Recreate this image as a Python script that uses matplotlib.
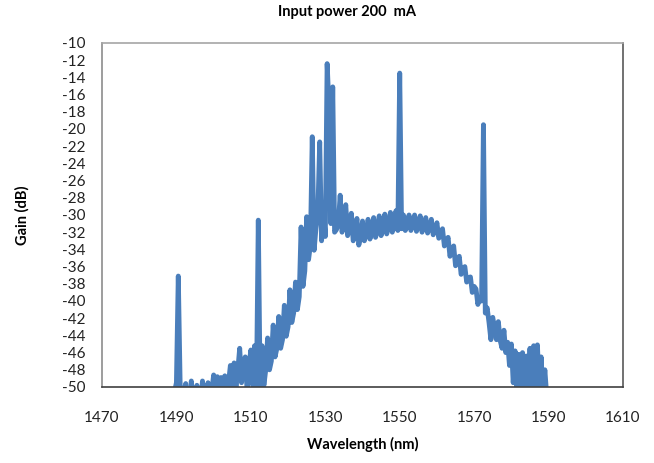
import numpy as np
import matplotlib
matplotlib.use("Agg")
import matplotlib.pyplot as plt

wl_start = 1489.0
wl_step = 0.5
gain = [
    # 1489.0 - 1498.5
    -52, -50.5, -49.5, -37.1, -49.8, -52, -50.5, -49.6, -52, -52,
    -49.3, -52, -52, -49.8, -52, -52, -49.3, -52, -50.5, -49.5,
    # 1499.0 - 1508.5
    -52, -50.5, -48.6, -51, -48.8, -50.5, -48.9, -51, -48.7, -50.8,
    -49.5, -47.5, -50.5, -47.2, -50, -48, -45.5, -49.5, -47, -46.5,
    # 1509.0 - 1518.5
    -50.5, -47.5, -45.7, -49.8, -45.2, -50.5, -30.6, -50.5, -45.2, -49.8,
    -48.0, -44.3, -48.0, -47.0, -42.8, -46.5, -45.5, -41.8, -45.5, -44.5,
    # 1519.0 - 1528.5
    -40.5, -44.1, -43.0, -38.7, -42.5, -41.4, -37.8, -41.0, -39.5, -31.4,
    -38.3, -36.5, -30.2, -35.2, -33.5, -20.9, -34.1, -31.5, -29.8, -21.5,
    # 1529.0 - 1538.5
    -33.0, -29.5, -32.5, -12.4, -17.5, -31.0, -15.1, -32.0, -31.7, -31.0,
    -27.7, -32.0, -31.2, -28.8, -32.4, -31.6, -29.8, -33.0, -32.3, -30.4,
    # 1539.0 - 1548.5
    -33.5, -32.6, -30.7, -33.0, -32.2, -30.5, -32.8, -32.0, -30.3, -32.6,
    -31.8, -30.1, -32.4, -31.6, -29.9, -32.2, -31.4, -29.7, -32.0, -31.2,
    # 1549.0 - 1558.5
    -29.5, -31.8, -13.5, -31.6, -30.0, -31.8, -31.2, -30.0, -31.8, -31.2,
    -30.0, -31.9, -31.3, -30.1, -32.0, -31.4, -30.3, -32.1, -31.5, -30.5,
    # 1559.0 - 1568.5
    -32.3, -31.8, -30.9, -32.7, -32.3, -31.6, -33.6, -33.2, -32.6, -34.8,
    -34.2, -33.6, -35.9, -35.3, -34.8, -36.9, -36.3, -36.0, -37.8, -37.3,
    # 1569.0 - 1578.5
    -37.2, -39.0, -38.3, -38.6, -40.4, -39.6, -40.0, -19.5, -41.4, -40.8,
    -42.5, -44.5, -41.9, -43.2, -44.5, -42.4, -44.6, -45.5, -43.4, -46.0,
    # 1579.0 - 1589.5
    -44.8, -47.5, -45.0, -49.5, -45.8, -50.5, -46.2, -51, -46.0, -50.5,
    -46.4, -51, -45.5, -50.5, -45.2, -51, -45.1, -50.5, -46.5, -51,
    -48.0, -51,
]
wavelength = wl_start + wl_step * np.arange(len(gain))

x_ticks = [1470, 1490, 1510, 1530, 1550, 1570, 1590, 1610]
y_ticks = list(range(-50, -8, 2))

plt.rcParams['font.family'] = ['Lato', 'DejaVu Sans']
plt.rcParams['axes.unicode_minus'] = False

fig = plt.figure(figsize=(6.54, 4.63), dpi=100)
ax = fig.add_axes([102 / 654, 1 - 387 / 463, 521 / 654, 344 / 463])

ax.plot(wavelength, gain, color='#4a7ebb', linewidth=3.5, solid_joinstyle='round')

ax.set_xlim(1470, 1610)
ax.set_ylim(-50, -10)
ax.set_xticks(x_ticks)
ax.set_yticks(y_ticks)
ax.tick_params(axis='both', length=0, labelsize=11, colors='#222222')
ax.tick_params(axis='x', pad=17)
ax.tick_params(axis='y', pad=12)

ax.spines['top'].set_color('#a6a6a6')
ax.spines['left'].set_color('#8c8c8c')
ax.spines['right'].set_color('#595959')
ax.spines['bottom'].set_color('#404040')
for s in ax.spines.values():
    s.set_linewidth(1.2)

ax.set_xlabel('Wavelength (nm)', fontsize=10.5, fontweight='bold')
ax.xaxis.set_label_coords(0.5, -(437 - 387) / 344)
ax.set_ylabel('Gain (dB)', fontsize=10.5, fontweight='bold')
ax.yaxis.set_label_coords(-(102 - 30) / 521, 0.5)

fig.text(347 / 654, 1 - 12 / 463, 'Input power 200  mA', ha='center', va='center',
         fontsize=10.5, fontweight='bold')

fig.savefig('out.png', dpi=100)
